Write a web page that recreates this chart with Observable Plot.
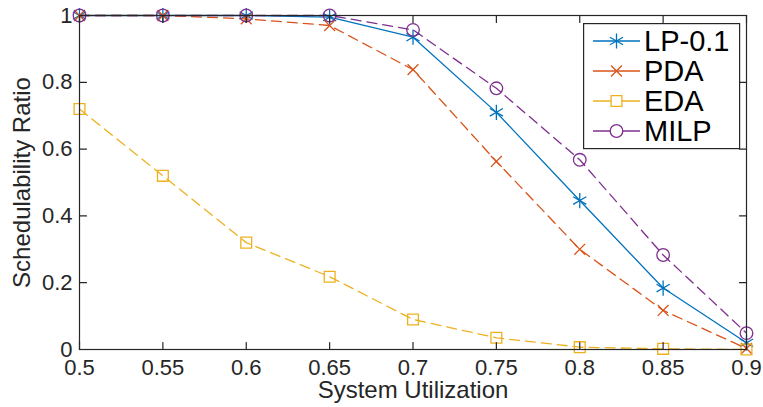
<!DOCTYPE html>
<html><head><meta charset="utf-8">
<script src="https://cdn.jsdelivr.net/npm/d3@7"></script>
<script src="https://cdn.jsdelivr.net/npm/@observablehq/plot@0.6"></script>
<style>
html,body{margin:0;padding:0;background:#fff;}
#wrap{position:relative;width:763px;height:407px;font-family:"Liberation Sans",Arial,sans-serif;}
#legend{position:absolute;left:583px;top:23px;}
</style></head><body><div id="wrap"></div>
<script>
const utilization = [0.5, 0.55, 0.6, 0.65, 0.7, 0.75, 0.8, 0.85, 0.9];
const lp01 = [1, 1, 1, 0.995, 0.935, 0.71, 0.446, 0.184, 0.02];
const pda  = [1, 1, 0.99, 0.97, 0.838, 0.563, 0.30, 0.117, 0.003];
const eda  = [0.72, 0.52, 0.32, 0.218, 0.09, 0.035, 0.007, 0.002, 0];
const milp = [1, 1, 1, 1, 0.957, 0.782, 0.568, 0.283, 0.049];
const xTicks = [0.5, 0.55, 0.6, 0.65, 0.7, 0.75, 0.8, 0.85, 0.9];
const yTicks = [0, 0.2, 0.4, 0.6, 0.8, 1];
const seriesNames = ["LP-0.1", "PDA", "EDA", "MILP"];
const seriesValues = [lp01, pda, eda, milp];
const colors = ["#0072BD", "#D95319", "#EDB120", "#7E2F8E"];
const symbols = ["asterisk", "times", "square", "circle"];
const radii = [7.2, 5, 6.1, 6.3];
const dashes = [null, "10,6", "10,6", "10,6"];
const xDomain = [0.5, 0.9];
const yDomain = [0, 1];

const tickLen = 7;
const tickShape = {draw(c, l) { c.moveTo(0, 0); c.lineTo(0, -l); }};
const axisColor = "#262626";

const marks = [];
seriesValues.forEach((vals, i) => {
  marks.push(Plot.line(utilization, {x: d => d, y: (d, j) => vals[j], stroke: colors[i], strokeWidth: 1.3, strokeDasharray: dashes[i]}));
  marks.push(Plot.dot(utilization, {x: d => d, y: (d, j) => vals[j], symbol: symbols[i], r: radii[i], stroke: colors[i], fill: "none", strokeWidth: 1.3}));
});
// inward ticks
marks.push(Plot.vector(xTicks, {x: d => d, y: () => yDomain[0], length: tickLen, rotate: 0, anchor: "start", shape: tickShape, stroke: axisColor, strokeWidth: 1.2}));
marks.push(Plot.vector(xTicks, {x: d => d, y: () => yDomain[1], length: tickLen, rotate: 180, anchor: "start", shape: tickShape, stroke: axisColor, strokeWidth: 1.2}));
marks.push(Plot.vector(yTicks, {y: d => d, x: () => xDomain[0], length: tickLen, rotate: 90, anchor: "start", shape: tickShape, stroke: axisColor, strokeWidth: 1.2}));
marks.push(Plot.vector(yTicks, {y: d => d, x: () => xDomain[1], length: tickLen, rotate: 270, anchor: "start", shape: tickShape, stroke: axisColor, strokeWidth: 1.2}));
marks.push(Plot.frame({stroke: axisColor, strokeWidth: 1.2}));
marks.push(Plot.axisX(xTicks, {tickSize: 0, tickPadding: 10, tickFormat: d => String(d), fontSize: 22, label: null, fill: axisColor}));
marks.push(Plot.axisY(yTicks, {tickSize: 0, tickPadding: 7, tickFormat: d => String(d), fontSize: 22, label: null, fill: axisColor}));
marks.push(Plot.text(["System Utilization"], {frameAnchor: "bottom", textAnchor: "middle", lineAnchor: "middle", dy: 41, fontSize: 24, fill: axisColor}));
marks.push(Plot.text(["Schedulability Ratio"], {frameAnchor: "left", textAnchor: "middle", lineAnchor: "middle", dx: -57, rotate: -90, fontSize: 24, fill: axisColor}));

const chart = Plot.plot({
  width: 763, height: 407,
  marginLeft: 79, marginRight: 17, marginTop: 15, marginBottom: 58,
  x: {domain: xDomain},
  y: {domain: yDomain},
  style: {fontFamily: '"Liberation Sans", Arial, sans-serif', color: axisColor, background: "#fff", overflow: "visible"},
  marks
});
const wrap = document.getElementById("wrap");
wrap.appendChild(chart);

// legend
const lw = 156, lh = 125;
const leg = d3.select(wrap).append("svg").attr("id", "legend").attr("width", lw + 2).attr("height", lh + 2);
leg.append("rect").attr("x", 0.6).attr("y", 0.6).attr("width", lw).attr("height", lh).attr("fill", "#fff").attr("stroke", axisColor).attr("stroke-width", 1.2);
const symMap = {asterisk: d3.symbolAsterisk, times: d3.symbolTimes, square: d3.symbolSquare, circle: d3.symbolCircle};
seriesNames.forEach((name, i) => {
  const cy = 18 + i * 30;
  const g = leg.append("g").attr("transform", `translate(0,${cy})`);
  g.append("line").attr("x1", 10).attr("x2", 57).attr("y1", 0).attr("y2", 0).attr("stroke", colors[i]).attr("stroke-width", 1.3);
  g.append("path").attr("transform", "translate(33.5,0)").attr("d", d3.symbol(symMap[symbols[i]], Math.PI * radii[i] * radii[i])()).attr("fill", symbols[i] === "square" || symbols[i] === "circle" ? "#fff" : "none").attr("stroke", colors[i]).attr("stroke-width", 1.3);
  g.append("text").attr("x", 61).attr("y", 0).attr("dy", "0.36em").attr("font-size", 29).attr("font-family", '"Liberation Sans", Arial, sans-serif').attr("fill", "#000").text(name);
});
</script></body></html>
